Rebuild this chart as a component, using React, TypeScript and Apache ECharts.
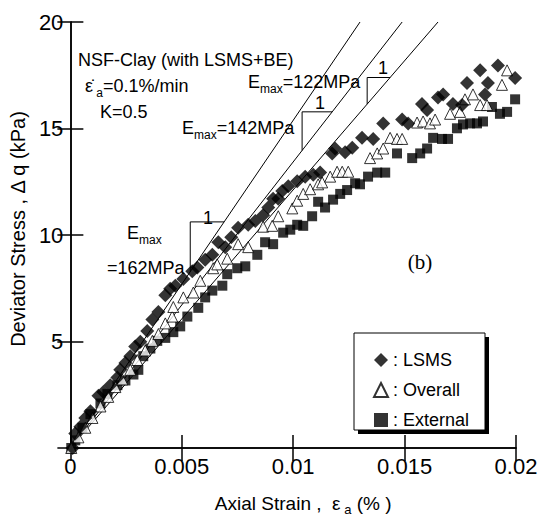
import React, { useEffect, useRef } from "react";
import * as echarts from "echarts";

const FONT = "'Liberation Sans', Arial, sans-serif";

// LSMS (diamonds)
const lsmsStrain = [0.0001, 0.00022, 0.00045, 0.00067, 0.0009, 0.00126, 0.00148, 0.00179, 0.00211, 0.00224, 0.00247, 0.00269, 0.00291, 0.00314, 0.00345, 0.00368, 0.00395, 0.00426, 0.00448, 0.00471, 0.00507, 0.00547, 0.0057, 0.00605, 0.00637, 0.00664, 0.00695, 0.00722, 0.00753, 0.00798, 0.0083, 0.00865, 0.00888, 0.0091, 0.00933, 0.00951, 0.00978, 0.01018, 0.01054, 0.0109, 0.01121, 0.01175, 0.01188, 0.01233, 0.01265, 0.01309, 0.01359, 0.01404, 0.01489, 0.01516, 0.01578, 0.01601, 0.0165, 0.01673, 0.01717, 0.01758, 0.0178, 0.01839, 0.01861, 0.01874, 0.01919, 0.01996];
const lsmsStress = [0.0, 0.68, 1.0, 1.41, 1.72, 2.45, 2.63, 2.95, 3.31, 3.67, 3.99, 4.31, 4.76, 4.99, 5.49, 6.03, 6.39, 7.17, 7.48, 7.62, 7.94, 8.3, 8.48, 8.84, 9.07, 9.66, 9.43, 9.89, 10.34, 10.48, 10.66, 10.93, 11.29, 11.7, 11.7, 12.06, 12.29, 12.52, 12.74, 12.83, 12.93, 13.83, 14.06, 13.88, 14.1, 14.56, 14.51, 15.24, 15.42, 15.24, 16.15, 15.87, 16.46, 16.6, 16.15, 16.1, 17.14, 17.73, 16.6, 17.14, 17.96, 17.37];

// Overall (open triangles)
const overallStrain = [0.00004, 0.00036, 0.00067, 0.00099, 0.00135, 0.0017, 0.00202, 0.00233, 0.00269, 0.003, 0.00336, 0.00368, 0.00395, 0.00426, 0.00457, 0.00462, 0.00507, 0.00552, 0.00583, 0.00641, 0.00659, 0.00704, 0.00753, 0.00798, 0.00865, 0.00906, 0.00933, 0.00996, 0.01018, 0.01045, 0.01076, 0.01112, 0.0113, 0.01166, 0.01197, 0.0122, 0.01247, 0.01345, 0.01377, 0.01404, 0.01435, 0.01466, 0.01489, 0.01556, 0.01583, 0.01614, 0.01637, 0.01704, 0.01749, 0.01771, 0.01807, 0.01839, 0.0187, 0.01937, 0.0196];
const overallStress = [0.0, 0.5, 0.95, 1.41, 1.95, 2.4, 2.86, 3.22, 3.67, 4.13, 4.58, 5.03, 5.35, 5.85, 6.17, 6.62, 7.07, 7.3, 7.85, 8.44, 8.62, 8.89, 9.57, 9.43, 10.39, 10.43, 10.88, 11.25, 11.61, 11.93, 12.15, 12.38, 12.47, 12.74, 12.97, 12.97, 12.97, 13.61, 13.83, 14.06, 14.56, 14.51, 14.51, 15.28, 15.33, 15.24, 15.42, 15.69, 15.78, 16.37, 16.6, 16.1, 16.1, 17.05, 17.73];

// External (squares)
const externalStrain = [0.00004, 0.00022, 0.00054, 0.0009, 0.00135, 0.00166, 0.00211, 0.00247, 0.00283, 0.00305, 0.00327, 0.00359, 0.0039, 0.00426, 0.00462, 0.00493, 0.00525, 0.00574, 0.00605, 0.00637, 0.00682, 0.00704, 0.00749, 0.00785, 0.00839, 0.00874, 0.0091, 0.00955, 0.00987, 0.01018, 0.01045, 0.01085, 0.01112, 0.01143, 0.01179, 0.01211, 0.01242, 0.01278, 0.013, 0.01336, 0.01377, 0.01413, 0.01466, 0.01534, 0.0157, 0.01601, 0.01628, 0.01668, 0.01695, 0.01735, 0.01762, 0.01794, 0.01825, 0.01852, 0.01892, 0.01928, 0.0196, 0.01996];
const externalStress = [0.0, 0.36, 0.95, 1.59, 2.09, 2.54, 2.95, 3.17, 3.45, 3.67, 4.31, 4.67, 5.03, 5.17, 5.44, 5.71, 6.17, 6.58, 7.07, 7.39, 7.62, 8.16, 8.44, 8.53, 9.07, 9.66, 9.57, 10.11, 10.25, 10.48, 10.43, 10.88, 11.56, 11.29, 11.66, 11.93, 12.11, 12.43, 12.38, 12.74, 12.93, 12.93, 13.83, 13.61, 13.83, 14.06, 14.56, 14.51, 14.51, 15.01, 15.19, 15.24, 15.24, 15.33, 16.01, 15.69, 15.78, 16.37];

// Emax reference lines: strain where each line through the origin reaches Δq = 20
const emaxNames = ["162MPa", "142MPa", "122MPa"];
const emaxTopStrain = [0.013, 0.01489, 0.0165];
const emaxTopStress = 20;
// slope triangles: corner strain and right end strain (on the line)
const slopeCornerStrain = [0.00538, 0.0104, 0.01332];
const slopeRightStrain = [0.0069, 0.01175, 0.01435];

const zip = (a: number[], b: number[]) => a.map((v, i) => [v, b[i]]);

const rich = {
  n: { fontSize: 18, fontFamily: FONT, color: "#000", lineHeight: 22 },
  s: { fontSize: 12, fontFamily: FONT, color: "#000", lineHeight: 26, verticalAlign: "bottom" },
};
const grich = {
  n: { fontSize: 18, fontFamily: FONT, fill: "#000", lineHeight: 22 },
  s: { fontSize: 12, fontFamily: FONT, fill: "#000", lineHeight: 26, verticalAlign: "bottom" },
};

export default function App() {
  const ref = useRef<HTMLDivElement>(null);
  useEffect(() => {
    if (!ref.current) return;
    const chart = echarts.init(ref.current, null, { renderer: "svg" });

    const lineSeries: any[] = emaxTopStrain.map((xt, i) => ({
      name: "Emax" + emaxNames[i],
      type: "line",
      data: [
        [0, 0],
        [xt, emaxTopStress],
      ],
      symbol: "none",
      silent: true,
      lineStyle: { color: "#000", width: 1 },
      z: 1,
    }));
    const triSeries: any[] = emaxTopStrain.map((xt, i) => {
      const k = emaxTopStress / xt;
      const x0 = slopeCornerStrain[i];
      const xr = slopeRightStrain[i];
      return {
        name: "slope" + i,
        type: "line",
        data: [
          [x0, k * x0],
          [x0, k * xr],
          [xr, k * xr],
        ],
        symbol: "none",
        silent: true,
        lineStyle: { color: "#000", width: 1 },
        z: 1,
      };
    });

    const axisCommon = {
      type: "value",
      axisLine: { show: true, lineStyle: { color: "#000", width: 1.5 } },
      axisTick: { show: true, inside: true, length: 13, lineStyle: { color: "#000", width: 1.5 } },
      splitLine: { show: false },
    };

    const option: any = {
      animation: false,
      backgroundColor: "#fff",
      grid: { left: 70, top: 22, right: 37, bottom: 58 },
      xAxis: [
        {
          ...axisCommon,
          min: 0,
          max: 0.02,
          interval: 0.005,
          position: "bottom",
          axisLabel: { fontSize: 22, fontFamily: FONT, color: "#000", margin: 7 },
          name: "{n|Axial Strain ,  ε}{s| a}{n| (% )}",
          nameLocation: "middle",
          nameGap: 42,
          nameTextStyle: {
            rich: { n: { ...rich.n, fontSize: 19 }, s: { ...rich.s, fontSize: 13 } },
            padding: [0, 0, 0, 20],
          },
        },
        {
          ...axisCommon,
          min: 0,
          max: 0.02,
          interval: 0.005,
          position: "top",
          axisLabel: { show: false },
        },
      ],
      yAxis: [
        {
          ...axisCommon,
          min: 0,
          max: 20,
          interval: 5,
          position: "left",
          axisLabel: { fontSize: 22, fontFamily: FONT, color: "#000", margin: 7, showMinLabel: false },
          name: "Deviator Stress , Δ q (kPa)",
          nameLocation: "middle",
          nameGap: 40,
          nameTextStyle: { fontSize: 20, fontFamily: FONT, color: "#000", padding: [0, 0, 0, 12] },
        },
        {
          ...axisCommon,
          min: 0,
          max: 20,
          interval: 5,
          position: "right",
          axisLabel: { show: false },
        },
      ],
      legend: {
        orient: "vertical",
        left: 373,
        top: 351,
        itemWidth: 14,
        itemHeight: 14,
        itemGap: 12,
        padding: 0,
        z: 10,
        data: ["LSMS", "Overall", "External"],
        formatter: (n: string) => ": " + n,
        textStyle: { fontSize: 18, fontFamily: FONT, color: "#000" },
      },
      series: [
        ...lineSeries,
        ...triSeries,
        {
          name: "External",
          type: "scatter",
          data: zip(externalStrain, externalStress),
          symbol: "rect",
          symbolSize: 10,
          itemStyle: { color: "#000" },
          z: 2,
        },
        {
          name: "Overall",
          type: "scatter",
          data: zip(overallStrain, overallStress),
          symbol: "triangle",
          symbolSize: 11,
          itemStyle: { color: "#fff", borderColor: "#000", borderWidth: 1 },
          z: 3,
        },
        {
          name: "LSMS",
          type: "scatter",
          data: zip(lsmsStrain, lsmsStress),
          symbol: "diamond",
          symbolSize: 14,
          itemStyle: { color: "#000" },
          z: 4,
        },
      ],
      graphic: [
        { type: "rect", z: 5, shape: { x: 358, y: 337, width: 131, height: 97 }, style: { fill: "#000" } },
        {
          type: "rect",
          z: 6,
          shape: { x: 354, y: 333, width: 131, height: 97 },
          style: { fill: "#fff", stroke: "#000", lineWidth: 1 },
        },
        {
          type: "text",
          x: 78,
          y: 60,
          z: 7,
          style: { text: "NSF-Clay (with LSMS+BE)", fontSize: 18, fontFamily: FONT, fill: "#000", verticalAlign: "middle" },
        },
        {
          type: "text",
          x: 85,
          y: 86,
          z: 7,
          style: { text: "{n|\u03B5\u0307}{s| a}{n|=0.1%/min}", rich: grich, verticalAlign: "middle" },
        },
        {
          type: "text",
          x: 100,
          y: 112,
          z: 7,
          style: { text: "K=0.5", fontSize: 18, fontFamily: FONT, fill: "#000", verticalAlign: "middle" },
        },
        {
          type: "text",
          x: 182,
          y: 128,
          z: 7,
          style: { text: "{n|E}{s|max}{n|=142MPa}", rich: grich, verticalAlign: "middle" },
        },
        {
          type: "text",
          x: 248,
          y: 82,
          z: 7,
          style: { text: "{n|E}{s|max}{n|=122MPa}", rich: grich, verticalAlign: "middle" },
        },
        {
          type: "text",
          x: 127,
          y: 233,
          z: 7,
          style: { text: "{n|E}{s|max}", rich: grich, verticalAlign: "middle" },
        },
        {
          type: "text",
          x: 107,
          y: 268,
          z: 7,
          style: { text: "=162MPa", fontSize: 18, fontFamily: FONT, fill: "#000", verticalAlign: "middle" },
        },
        {
          type: "text",
          x: 208,
          y: 218,
          z: 7,
          style: { text: "1", fontSize: 18, fontFamily: FONT, fill: "#000", align: "center", verticalAlign: "middle" },
        },
        {
          type: "text",
          x: 320,
          y: 103,
          z: 7,
          style: { text: "1", fontSize: 18, fontFamily: FONT, fill: "#000", align: "center", verticalAlign: "middle" },
        },
        {
          type: "text",
          x: 383,
          y: 68,
          z: 7,
          style: { text: "1", fontSize: 18, fontFamily: FONT, fill: "#000", align: "center", verticalAlign: "middle" },
        },
        {
          type: "text",
          x: 420,
          y: 262,
          z: 7,
          style: {
            text: "(b)",
            fontSize: 21,
            fontFamily: "'Liberation Serif', 'Times New Roman', serif",
            fill: "#000",
            align: "center",
            verticalAlign: "middle",
          },
        },
      ],
    };
    chart.setOption(option);
    return () => chart.dispose();
  }, []);
  return (
    <div
      ref={ref}
      style={{ position: "absolute", left: 0, top: 0, width: 553, height: 521, background: "#fff" }}
    />
  );
}
